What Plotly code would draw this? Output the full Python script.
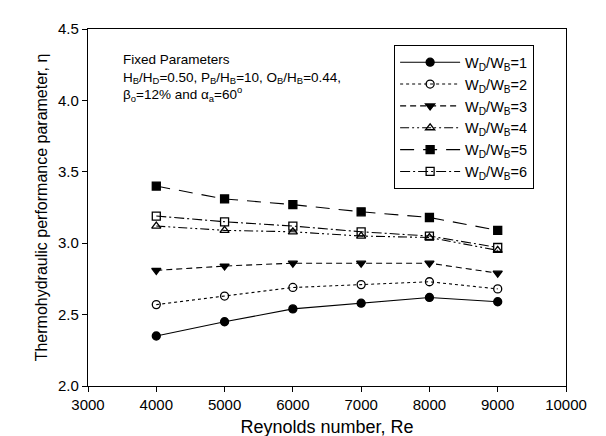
import plotly.graph_objects as go

re_vals = [4000, 5000, 6000, 7000, 8000, 9000]
eta_wd1 = [2.35, 2.45, 2.54, 2.58, 2.62, 2.59]
eta_wd2 = [2.57, 2.63, 2.69, 2.71, 2.73, 2.68]
eta_wd3 = [2.81, 2.84, 2.86, 2.86, 2.86, 2.79]
eta_wd4 = [3.12, 3.09, 3.08, 3.05, 3.04, 2.95]
eta_wd5 = [3.40, 3.31, 3.27, 3.22, 3.18, 3.09]
eta_wd6 = [3.19, 3.15, 3.12, 3.08, 3.05, 2.97]
series_names = ["W<sub>D</sub>/W<sub>B</sub>=%d" % i for i in range(1, 7)]

styles = [
    ("solid", "circle"),
    ("dot", "circle-open"),
    ("6px,4px", "triangle-down"),
    ("9px,3px,2px,3px,2px,3px", "triangle-up-open"),
    ("14px,9px", "square"),
    ("10px,3px,2px,3px", "square-open"),
]
data = [eta_wd1, eta_wd2, eta_wd3, eta_wd4, eta_wd5, eta_wd6]

fig = go.Figure()
for name, ys, (dash, sym) in zip(series_names, data, styles):
    fig.add_trace(go.Scatter(
        x=re_vals, y=ys, name=name, mode="lines+markers",
        line=dict(color="black", width=1.1, dash=dash),
        marker=dict(symbol=sym, size=8, color="black",
                    line=dict(color="black", width=1.3)),
    ))

font_family = "Liberation Sans, Arial, sans-serif"
fig.update_layout(
    width=606, height=436,
    margin=dict(l=80, r=48, t=21, b=58),
    paper_bgcolor="white", plot_bgcolor="white",
    font=dict(family=font_family, color="black"),
    showlegend=True,
    legend=dict(
        x=0.64, y=0.955, xanchor="left", yanchor="top",
        bordercolor="black", borderwidth=1.2, bgcolor="white",
        font=dict(size=14.5, family=font_family),
        itemwidth=60, tracegroupgap=0,
    ),
    xaxis=dict(
        range=[3000, 10000], dtick=1000, tick0=3000, tickformat="d",
        showline=True, linecolor="black", linewidth=1.2, mirror=True,
        ticks="outside", ticklen=5, tickcolor="black",
        showgrid=False, zeroline=False, automargin=False,
        tickfont=dict(size=15),
        title=dict(text="Reynolds number, Re", font=dict(size=18), standoff=8),
    ),
    yaxis=dict(
        range=[2.0, 4.5], dtick=0.5, tick0=2.0, tickformat=".1f",
        showline=True, linecolor="black", linewidth=1.2, mirror=True,
        ticks="outside", ticklen=5, tickcolor="black",
        showgrid=False, zeroline=False, automargin=False,
        tickfont=dict(size=15),
        title=dict(text="Thermohydraulic performance parameter, η", font=dict(size=16), standoff=6),
    ),
    annotations=[dict(
        x=0.069, y=0.94, xref="paper", yref="paper",
        xanchor="left", yanchor="top", align="left", showarrow=False,
        font=dict(size=13.5, family=font_family),
        text=("Fixed Parameters<br>"
              "H<sub>B</sub>/H<sub>D</sub>=0.50, P<sub>B</sub>/H<sub>B</sub>=10, O<sub>B</sub>/H<sub>B</sub>=0.44,<br>"
              "β<sub>o</sub>=12% and α<sub>a</sub>=60<sup>o</sup>"),
    )],
)

fig.write_html("out.html")
